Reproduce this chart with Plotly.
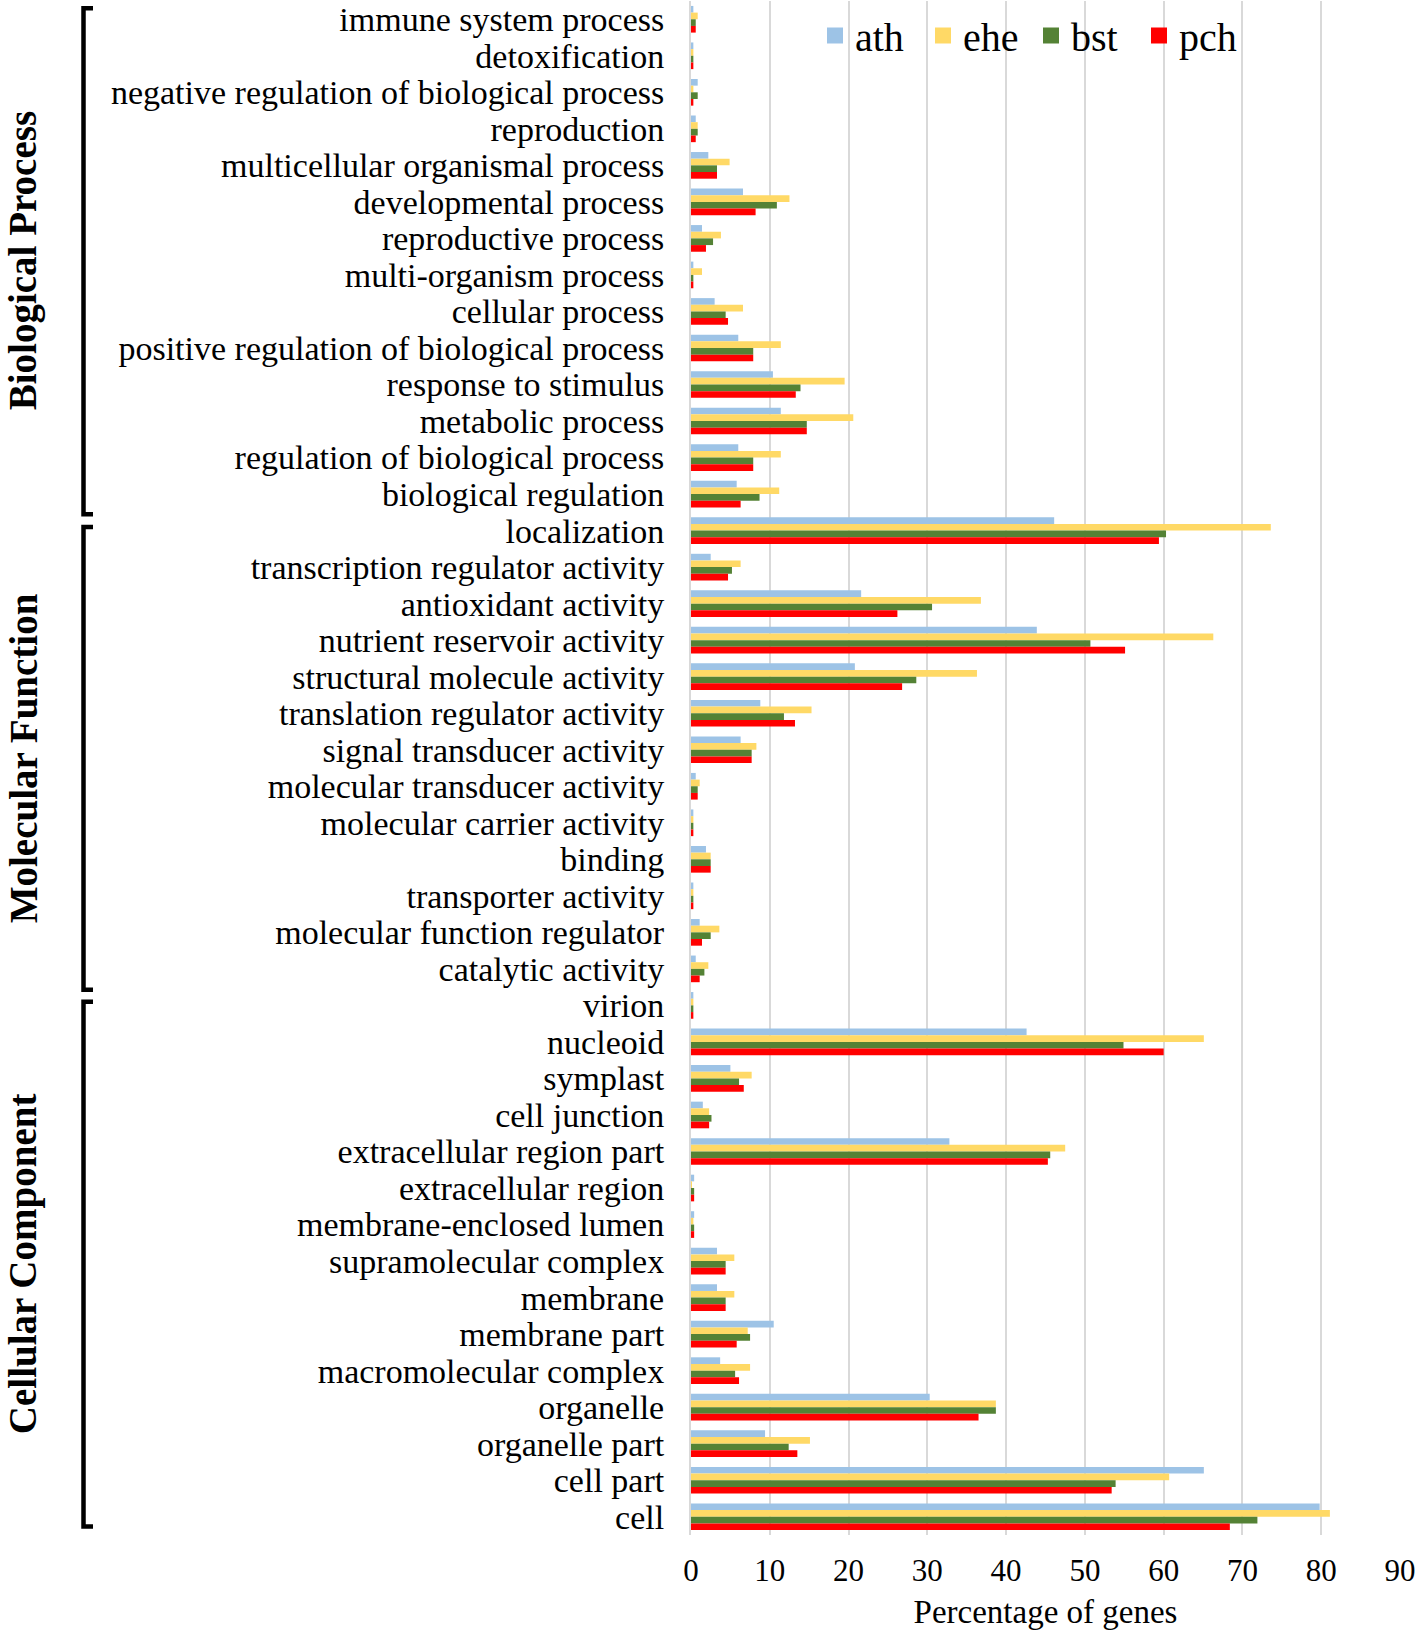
import plotly.graph_objects as go

categories = [
    "immune system process", "detoxification", "negative regulation of biological process",
    "reproduction", "multicellular organismal process", "developmental process",
    "reproductive process", "multi-organism process", "cellular process",
    "positive regulation of biological process", "response to stimulus", "metabolic process",
    "regulation of biological process", "biological regulation", "localization",
    "transcription regulator activity", "antioxidant activity", "nutrient reservoir activity",
    "structural molecule activity", "translation regulator activity", "signal transducer activity",
    "molecular transducer activity", "molecular carrier activity", "binding",
    "transporter activity", "molecular function regulator", "catalytic activity",
    "virion", "nucleoid", "symplast", "cell junction", "extracellular region part",
    "extracellular region", "membrane-enclosed lumen", "supramolecular complex", "membrane",
    "membrane part", "macromolecular complex", "organelle", "organelle part", "cell part", "cell",
]

ath = [0.3, 0.3, 0.85, 0.6, 2.2, 6.6, 1.4, 0.3, 3.0, 6.0, 10.4, 11.4, 6.0, 5.8, 46.1,
       2.5, 21.6, 43.9, 20.8, 8.8, 6.3, 0.6, 0.3, 1.9, 0.3, 1.1, 0.6,
       0.3, 42.6, 5.0, 1.5, 32.8, 0.4, 0.4, 3.3, 3.3, 10.5, 3.7, 30.3, 9.4, 65.1, 79.8]
ehe = [0.85, 0.3, 0.3, 0.85, 4.9, 12.5, 3.8, 1.4, 6.6, 11.4, 19.5, 20.6, 11.4, 11.2, 73.6,
       6.3, 36.8, 66.3, 36.3, 15.3, 8.3, 1.1, 0.3, 2.5, 0.3, 3.6, 2.2,
       0.3, 65.1, 7.7, 2.3, 47.5, 0.1, 0.3, 5.5, 5.5, 7.2, 7.5, 38.7, 15.1, 60.7, 81.1]
bst = [0.6, 0.3, 0.85, 0.85, 3.3, 10.9, 2.8, 0.3, 4.4, 7.9, 13.9, 14.7, 7.9, 8.7, 60.3,
       5.2, 30.6, 50.7, 28.6, 11.8, 7.7, 0.85, 0.3, 2.5, 0.3, 2.5, 1.7,
       0.3, 54.9, 6.1, 2.6, 45.6, 0.4, 0.4, 4.4, 4.4, 7.5, 5.6, 38.7, 12.4, 53.9, 71.9]
pch = [0.6, 0.3, 0.3, 0.6, 3.3, 8.2, 1.9, 0.3, 4.7, 7.9, 13.3, 14.7, 7.9, 6.3, 59.4,
       4.7, 26.2, 55.1, 26.8, 13.2, 7.7, 0.85, 0.3, 2.5, 0.3, 1.4, 1.1,
       0.3, 60.0, 6.7, 2.3, 45.3, 0.4, 0.4, 4.4, 4.4, 5.8, 6.1, 36.5, 13.5, 53.4, 68.4]

series_names = ["ath", "ehe", "bst", "pch"]
series_colors = ["#9dc3e6", "#ffd966", "#548235", "#ff0000"]
series_values = [ath, ehe, bst, pch]

groups = ["Biological Process", "Molecular Function", "Cellular Component"]
# bracket extents in category-index units (top, bottom)
group_spans = [(-0.3, 13.55), (13.9, 26.57), (26.9, 41.27)]

x_ticks = list(range(0, 100, 10))

W, H = 1418, 1636
ML, MR, MT, MB = 691, 18, 1, 101
PW = W - ML - MR
PH = H - MT - MB
N = len(categories)

def px_to_paper_x(px):
    return (px - ML) / PW

def idx_to_paper_y(i):
    # reversed axis: index -0.5 at top
    return 1 - (i + 0.5) / N

FONT = "Liberation Serif, Times New Roman, serif"

fig = go.Figure()
for name, color, vals in zip(series_names, series_colors, series_values):
    fig.add_trace(go.Bar(
        y=categories, x=vals, orientation="h", name=name,
        marker=dict(color=color, line=dict(width=0)),
        showlegend=False,
    ))
# legend entries
for name, color in zip(series_names, series_colors):
    fig.add_trace(go.Scatter(
        x=[None], y=[None], mode="markers", name=name,
        marker=dict(symbol="square", size=18, color=color),
        showlegend=True,
    ))

shapes = []
bx = px_to_paper_x(83.5)
bx2 = px_to_paper_x(93)
for (t, b) in group_spans:
    yt = idx_to_paper_y(t)
    yb = idx_to_paper_y(b)
    shapes.append(dict(
        type="path", xref="paper", yref="paper",
        path=f"M {bx2} {yt} L {bx} {yt} L {bx} {yb} L {bx2} {yb}",
        line=dict(color="black", width=4.5),
    ))

annotations = []
for g, (t, b) in zip(groups, group_spans):
    annotations.append(dict(
        text=f"<b>{g}</b>", xref="paper", yref="paper",
        x=px_to_paper_x(23), y=idx_to_paper_y((t + b) / 2),
        textangle=-90, showarrow=False, xanchor="center", yanchor="middle",
        font=dict(family=FONT, size=39, color="black"),
    ))

fig.update_layout(
    width=W, height=H,
    margin=dict(l=ML, r=MR, t=MT, b=MB),
    paper_bgcolor="white", plot_bgcolor="white",
    barmode="group", bargap=0.27, bargroupgap=0,
    font=dict(family=FONT, color="black"),
    shapes=shapes, annotations=annotations,
    legend=dict(
        orientation="h", x=px_to_paper_x(815), y=1 - (3 - MT) / PH,
        xanchor="left", yanchor="top",
        font=dict(family=FONT, size=40, color="black"),
        bgcolor="rgba(0,0,0,0)", itemwidth=30,
        entrywidth=63, entrywidthmode="pixels",
        tracegroupgap=0,
    ),
    xaxis=dict(
        range=[0, 90], tickvals=x_ticks, ticktext=[str(v) for v in x_ticks],
        showgrid=True, gridcolor="#d9d9d9", gridwidth=2,
        zeroline=False, showline=False, ticks="",
        tickfont=dict(family=FONT, size=31, color="black"),
        ticklabelstandoff=14,
        title=dict(text="Percentage of genes", font=dict(family=FONT, size=33, color="black"),
                   standoff=12),
    ),
    yaxis=dict(
        categoryorder="array", categoryarray=categories, autorange="reversed",
        tickmode="array", tickvals=categories, ticktext=categories,
        showgrid=False, zeroline=False, showline=True, linecolor="#d9d9d9", linewidth=2,
        ticks="", ticklabelstandoff=18,
        tickfont=dict(family=FONT, size=34, color="black"),
    ),
)

fig.write_html("out.html", config={"displayModeBar": False},
               post_script="document.body.style.margin='0';document.body.style.padding='0';")
